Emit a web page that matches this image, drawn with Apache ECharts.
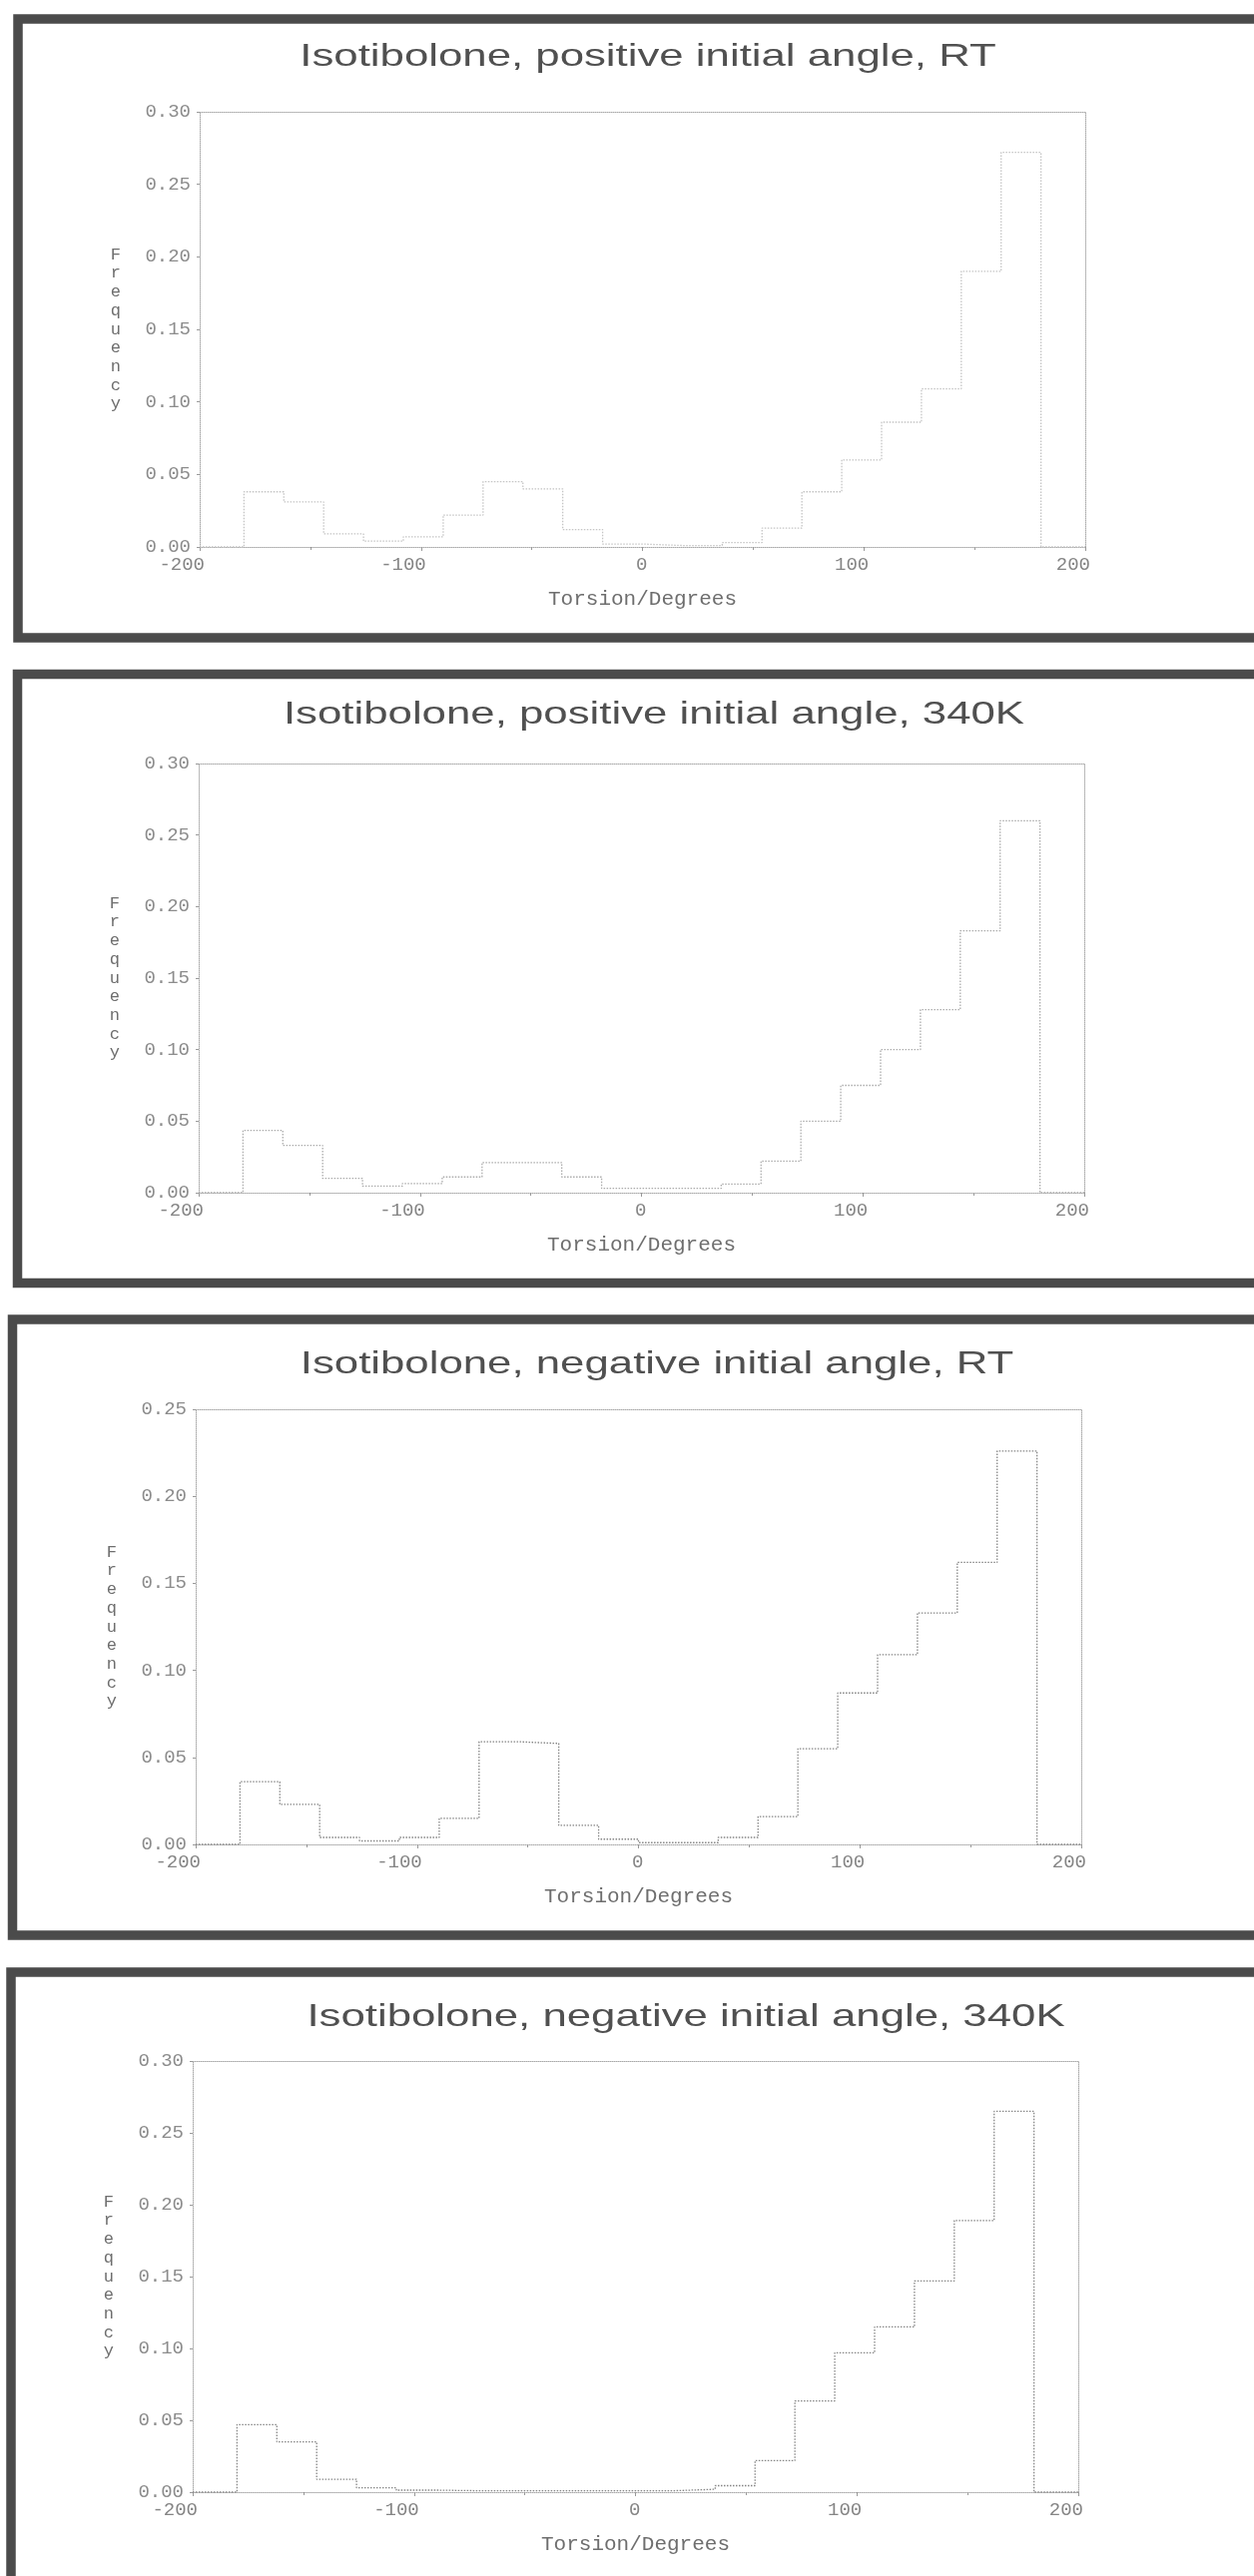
<!DOCTYPE html>
<html>
<head>
<meta charset="utf-8">
<script src="https://cdn.jsdelivr.net/npm/echarts@6/dist/echarts.min.js"></script>
<style>
  html, body { margin: 0; padding: 0; background: #ffffff; }
  #chart { width: 1256px; height: 2581px; }
</style>
</head>
<body>
<div id="chart"></div>
<script>
// Histogram bin edges (18 degree bins over -180..180)
const binEdges = [-180, -162, -144, -126, -108, -90, -72, -54, -36, -18, 0,
                  18, 36, 54, 72, 90, 108, 126, 144, 162, 180];

// Relative frequency per bin
const posRT  = [0.038, 0.031, 0.009, 0.004, 0.007, 0.022, 0.045, 0.040, 0.012, 0.002,
                0.001, 0.001, 0.003, 0.013, 0.038, 0.060, 0.086, 0.109, 0.190, 0.272];
const pos340 = [0.0435, 0.033, 0.010, 0.0046, 0.0064, 0.011, 0.021, 0.021, 0.011, 0.003,
                0.003, 0.003, 0.006, 0.022, 0.050, 0.075, 0.100, 0.128, 0.183, 0.260];
const negRT  = [0.036, 0.023, 0.004, 0.002, 0.004, 0.015, 0.059, 0.058, 0.011, 0.003,
                0.001, 0.001, 0.004, 0.016, 0.055, 0.087, 0.109, 0.133, 0.162, 0.226];
const neg340 = [0.047, 0.035, 0.009, 0.003, 0.0014, 0.001, 0.001, 0.001, 0.001, 0.001,
                0.001, 0.002, 0.0045, 0.022, 0.0635, 0.097, 0.115, 0.147, 0.189, 0.265];

const titles = [
  'Isotibolone, positive initial angle, RT',
  'Isotibolone, positive initial angle, 340K',
  'Isotibolone, negative initial angle, RT',
  'Isotibolone, negative initial angle, 340K'
];
const seriesValues = [posRT, pos340, negRT, neg340];
const yMaxima = [0.30, 0.30, 0.25, 0.30];
const xRange = [-200, 200];
const xAxisName = 'Torsion/Degrees';
const yAxisName = 'Frequency';

// Layout of the four framed panels
const layout = [
  { grid: { left: 200, top: 112, width: 887, height: 436 }, title: [649, 57.5],  frame: [18, 19, 1260, 620],   line: '#c4c4c4' },
  { grid: { left: 199, top: 765, width: 887, height: 430 }, title: [655, 717],   frame: [17.5, 675.5, 1260, 610], line: '#ababab' },
  { grid: { left: 196, top: 1412, width: 887, height: 436 }, title: [658, 1368], frame: [12.5, 1322, 1265, 617], line: '#858585' },
  { grid: { left: 193, top: 2065, width: 887, height: 432 }, title: [687, 2022], frame: [11, 1976, 1270, 640],  line: '#858585' }
];

const MONO = '"Liberation Mono", "DejaVu Sans Mono", monospace';
const SANS = '"Liberation Sans", Arial, sans-serif';
const frameColor = '#aaaaaa';

// Step outline: zero run-in, one level per bin, zero run-out
function stepData(values) {
  const pts = [[xRange[0], 0]];
  values.forEach((v, i) => pts.push([binEdges[i], v]));
  pts.push([binEdges[binEdges.length - 1], 0]);
  pts.push([xRange[1], 0]);
  return pts;
}

const grids = [], xAxes = [], yAxes = [], series = [], graphics = [];

layout.forEach((p, i) => {
  grids.push(Object.assign({ containLabel: false }, p.grid));

  // bottom axis with labels
  xAxes.push({
    type: 'value', gridIndex: i, position: 'bottom',
    min: xRange[0], max: xRange[1], interval: 100,
    name: xAxisName, nameLocation: 'middle', nameGap: 42,
    nameTextStyle: { fontFamily: MONO, fontSize: 21, color: '#6e6e6e' },
    axisLine: { show: true, onZero: false, lineStyle: { type: 'dotted', color: frameColor, width: 1 } },
    axisTick: { show: true, length: 4, lineStyle: { color: '#999' } },
    minorTick: { show: true, splitNumber: 2, length: 3, lineStyle: { color: '#999' } },
    axisLabel: {
      fontFamily: MONO, fontSize: 19, color: '#858585', margin: 8,
      align: 'right', padding: [0, -5, 0, 0]
    },
    splitLine: { show: false }
  });
  // top frame edge
  xAxes.push({
    type: 'value', gridIndex: i, position: 'top',
    min: xRange[0], max: xRange[1],
    axisLine: { show: true, onZero: false, lineStyle: { type: 'dotted', color: frameColor, width: 1 } },
    axisTick: { show: false }, axisLabel: { show: false }, splitLine: { show: false }
  });

  // left axis with labels
  yAxes.push({
    type: 'value', gridIndex: i, position: 'left',
    min: 0, max: yMaxima[i], interval: 0.05,
    name: yAxisName.split('').join('\n'), nameLocation: 'middle', nameRotate: 0, nameGap: 79,
    nameTextStyle: { fontFamily: MONO, fontSize: 17, lineHeight: 18.7, color: '#6e6e6e' },
    axisLine: { show: true, onZero: false, lineStyle: { type: 'dotted', color: frameColor, width: 1 } },
    axisTick: { show: true, length: 3, lineStyle: { color: '#999' } },
    axisLabel: {
      fontFamily: MONO, fontSize: 19, color: '#8c8c8c', margin: 9,
      padding: [0, 0, 9, 0],
      formatter: v => v.toFixed(2)
    },
    splitLine: { show: false }
  });
  // right frame edge
  yAxes.push({
    type: 'value', gridIndex: i, position: 'right',
    min: 0, max: yMaxima[i],
    axisLine: { show: true, onZero: false, lineStyle: { type: 'dotted', color: frameColor, width: 1 } },
    axisTick: { show: false }, axisLabel: { show: false }, splitLine: { show: false }
  });

  series.push({
    type: 'line', xAxisIndex: i * 2, yAxisIndex: i * 2,
    step: 'end', showSymbol: false, silent: true, animation: false,
    data: stepData(seriesValues[i]),
    lineStyle: { color: p.line, width: 1.3, type: [1.5, 1.5] }
  });

  // panel frame
  graphics.push({
    type: 'rect', silent: true,
    shape: { x: p.frame[0], y: p.frame[1], width: p.frame[2], height: p.frame[3] },
    style: { fill: null, stroke: '#4b4b4b', lineWidth: 9.5 }
  });
  // panel heading
  graphics.push({
    type: 'text', silent: true,
    x: p.title[0], y: p.title[1], scaleX: 1.435,
    style: {
      text: titles[i], font: '30.5px ' + SANS, fill: '#505050',
      align: 'center', verticalAlign: 'middle'
    }
  });
});

const chart = echarts.init(document.getElementById('chart'), null, { renderer: 'canvas' });
chart.setOption({
  backgroundColor: '#ffffff',
  animation: false,
  grid: grids,
  xAxis: xAxes,
  yAxis: yAxes,
  series: series,
  graphic: graphics
});
</script>
</body>
</html>
